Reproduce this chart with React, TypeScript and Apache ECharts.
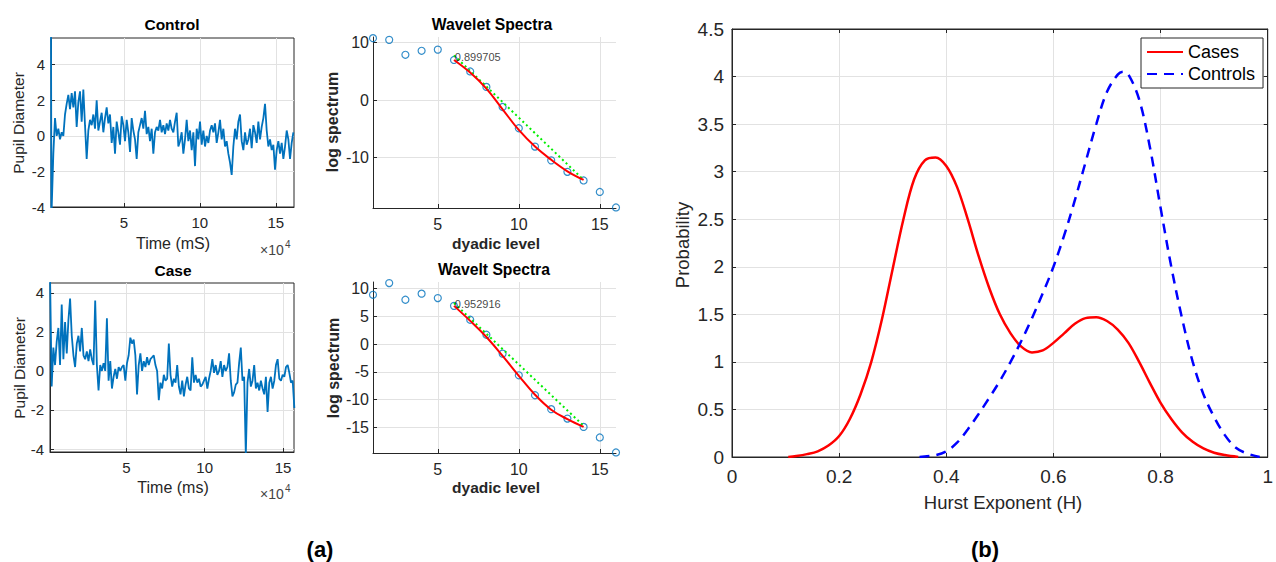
import React, { useEffect, useRef } from "react";
import * as echarts from "echarts";

const FONT = '"Liberation Sans", Arial, Helvetica, sans-serif';
const AX = "#262626";
const GRIDC = "#e2e2e2";
const MBLUE = "#0072BD";

// ---- (a) Control time series (x in units of 10^4 ms) ----
const controlLeadTimes = [0.2, 0.23];
const controlLeadValues = [6, -4.5];
const controlStart = 0.354;
const controlStep = 0.10975;
const controlValues = [
  -1.0, 1.0, 0.0, 0.4, -0.2, 0.2, 0.0, 1.2, 1.8, 2.3,
  1.5, 2.4, 1.6, 2.5, 0.5, 1.9, 2.5, 0.8, 2.6, 0.6,
  -1.3, 0.3, 0.9, 0.6, 1.2, 0.4, 2.0, 0.3, 0.8, 1.3,
  0.2, 1.0, 1.6, 0.7, 1.2, -0.4, 0.5, -1.0, 0.8, 0.2,
  -0.5, 1.1, 0.6, -0.3, 0.9, 0.2, -0.9, 1.0, 0.3, -0.2,
  -1.3, 0.2, 0.6, 1.0, 0.4, 1.4, 0.1, 0.5, -0.3, 0.4,
  -1.0, 0.2, 0.5, 0.3, 0.9, 0.2, 0.6, 0.1, 0.7, 0.3,
  0.9, 0.4, 0.2, 0.8, 1.3, -0.6, -0.3, 0.2, -1.0, -0.2,
  0.9, -0.3, 0.3, -0.8, 0.2, -1.7, 0.4, -0.2, 0.8, -0.5,
  0.3, -0.6, 0.0, -0.4, 0.3, 0.6, 0.2, 0.7, -0.4, 0.2,
  0.9, -0.2, 0.4, -0.6, -0.3, -1.0, -1.5, -2.2, -0.6, 0.4,
  -0.2, 0.8, 1.2, -0.3, -0.8, 0.2, -0.5, -0.2, 0.4, -0.7,
  0.6, 0.2, -0.4, 0.8, -0.2, 0.5, 1.0, 1.8, 0.3, -0.6,
  -0.2, -0.8, -0.5, -1.9, -0.8, -0.3, -1.0, -0.4, -1.3, -0.6,
  0.3, -0.2, -1.3, -0.4, 0.2,
];

// ---- (a) Case time series ----
const caseLeadTimes = [0.13];
const caseLeadValues = [5.0];
const caseStart = 0.237;
const caseStep = 0.1068;
const caseValues = [
  -0.8, 1.2, 0.3, 1.5, 2.2, 0.3, 3.4, 0.6, 2.5, 0.9,
  2.6, 3.7, 1.8, 0.8, 0.2, 1.4, 1.8, 1.0, 2.2, 0.8,
  0.6, 1.0, 0.5, 1.1, 0.6, 0.3, 3.6, 0.3, -1.0, 0.3,
  0.0, 0.4, 0.0, 2.7, -0.5, 0.5, -0.9, -0.3, 0.1, -0.4,
  0.2, 0.0, 0.2, 0.3, -0.5, 0.4, 0.8, 1.7, 1.4, 1.6,
  0.8, -1.2, 0.3, 0.9, 0.0, 0.5, 0.2, 0.7, 0.3, 0.6,
  0.7, 0.8, 0.3, 0.0, -1.5, -0.6, -0.9, -0.2, -0.5, -0.4,
  1.4, -0.2, -0.8, -0.4, -0.6, 0.3, -0.8, -1.2, -0.5, -1.3,
  -0.7, -0.3, -0.9, -1.0, 0.7, -0.6, -0.2, -0.6, -0.4, -0.8,
  -0.7, -0.5, -0.3, -0.9, -0.4, 0.0, 0.6, -0.1, 0.3, -0.2,
  0.0, 0.5, -0.3, 0.3, 0.0, 0.2, 0.9, -0.5, -1.3, -1.1,
  -0.7, -0.6, 0.4, 1.2, -0.5, -0.3, -4.3, -0.6, 0.1, -0.8,
  -0.5, 0.3, -0.9, -0.6, -1.0, -0.5, -0.9, -1.2, -0.3, -2.1,
  -0.6, -0.3, -0.9, -0.5, 0.3, 0.6, -0.4, -0.5, -0.2, -0.3,
  0.2, 0.3, -0.1, -0.6, -0.5, -1.9,
];

// ---- (a) Wavelet spectra ----
const dyadicLevels = [1, 2, 3, 4, 5, 6, 7, 8, 9, 10, 11, 12, 13, 14, 15, 16];
const spectraControl = [10.8, 10.5, 7.9, 8.6, 8.8, 7.0, 5.0, 2.3, -1.2, -4.9, -8.1, -10.5, -12.5, -14.0, -16.0, -18.7];
const spectraCase = [8.9, 11.0, 8.0, 9.1, 8.3, 6.9, 4.4, 1.7, -1.7, -5.6, -9.2, -11.7, -13.4, -14.9, -16.8, -19.5];
const fitLevels = [6, 7, 8, 9, 10, 11, 12, 13, 14];
const fitControl = [7.0, 4.8, 2.0, -1.6, -5.2, -8.1, -10.4, -12.4, -13.9];
const fitCase = [6.9, 4.2, 1.3, -2.1, -5.7, -9.1, -11.8, -13.5, -14.9];
const lineLevels = [6, 14];
const lineControl = [7.8, -13.9];
const lineCase = [7.4, -14.7];
const hurstLabelControl = "0.899705";
const hurstLabelCase = "0.952916";
const hurstLabelAtControl = [6.05, 7.5];
const hurstLabelAtCase = [6.05, 7.2];

// ---- (b) Probability densities of the Hurst exponent ----
const casesH = [0.105, 0.12, 0.14, 0.16, 0.18, 0.2, 0.22, 0.24, 0.26, 0.28, 0.3, 0.32, 0.34, 0.36, 0.38, 0.4, 0.42, 0.44, 0.46, 0.48, 0.5, 0.52, 0.54, 0.56, 0.58, 0.6, 0.62, 0.64, 0.66, 0.68, 0.7, 0.72, 0.74, 0.76, 0.78, 0.8, 0.82, 0.84, 0.86, 0.88, 0.9, 0.92, 0.945];
const casesP = [0, 0.01, 0.03, 0.06, 0.12, 0.22, 0.4, 0.66, 1.0, 1.45, 1.98, 2.5, 2.92, 3.12, 3.15, 3.06, 2.84, 2.5, 2.12, 1.78, 1.5, 1.3, 1.16, 1.1, 1.12, 1.2, 1.3, 1.4, 1.46, 1.47, 1.43, 1.34, 1.2, 1.0, 0.78, 0.57, 0.4, 0.26, 0.16, 0.09, 0.045, 0.02, 0];
const controlsH = [0.35, 0.38, 0.4, 0.42, 0.44, 0.46, 0.48, 0.5, 0.52, 0.54, 0.56, 0.58, 0.6, 0.62, 0.64, 0.66, 0.68, 0.7, 0.72, 0.73, 0.74, 0.76, 0.78, 0.8, 0.82, 0.84, 0.86, 0.88, 0.9, 0.92, 0.94, 0.96, 0.985];
const controlsP = [0, 0.02, 0.06, 0.15, 0.29, 0.45, 0.62, 0.8, 1.0, 1.22, 1.46, 1.72, 2.0, 2.33, 2.7, 3.1, 3.5, 3.84, 4.02, 4.05, 4.02, 3.76, 3.26, 2.62, 2.0, 1.46, 1.0, 0.66, 0.42, 0.23, 0.1, 0.04, 0];

const tsTicksX = [5, 10, 15];
const tsTicksY = [-4, -2, 0, 2, 4];
const dyadicTicks = [5, 10, 15];
const spectraTicksControl = [-10, 0, 10];
const spectraTicksCase = [-15, -10, -5, 0, 5, 10];

function zip(xs: number[], ys: number[]) {
  return xs.map((x, i) => [x, ys[i]]);
}

function axis(
  gridIndex: number,
  min: number,
  max: number,
  fontSize: number,
  margin: number,
  extra: any = {}
) {
  const ticks = extra.ticks;
  const tickObj: any = { show: true, inside: true, length: 4, lineStyle: { color: AX } };
  const labelObj: any = { color: AX, fontSize, fontFamily: FONT, margin };
  if (ticks) {
    tickObj.customValues = ticks;
    labelObj.customValues = ticks;
  }
  const a: any = {
    type: "value",
    gridIndex,
    min,
    max,
    axisLine: { show: true, onZero: false, lineStyle: { color: AX, width: 1 } },
    axisTick: tickObj,
    axisLabel: labelObj,
    splitLine: { show: true, lineStyle: { color: GRIDC, width: 1 } },
  };
  if (extra.interval) a.interval = extra.interval;
  if (extra.position) a.position = extra.position;
  if (extra.hidden) {
    a.axisLabel = { show: false };
    a.splitLine = { show: false };
  }
  return a;
}

function txt(x: number, y: number, text: string, fontSize: number, o: any = {}) {
  return {
    type: "text",
    x,
    y,
    rotation: o.rot || 0,
    silent: true,
    z: 10,
    style: {
      text,
      fontSize,
      fontFamily: FONT,
      fontWeight: o.bold ? "bold" : "normal",
      fill: o.color || "#000",
      align: o.align || "center",
      verticalAlign: "middle",
    },
  };
}

export default function App() {
  const ref = useRef<HTMLDivElement>(null);

  useEffect(() => {
    if (!ref.current) return;
    const chart = echarts.init(ref.current, undefined, { renderer: "svg" });

    const controlData = [
      ...zip(controlLeadTimes, controlLeadValues),
      ...controlValues.map((v, i) => [controlStart + i * controlStep, v]),
    ];
    const caseData = [
      ...zip(caseLeadTimes, caseLeadValues),
      ...caseValues.map((v, i) => [caseStart + i * caseStep, v]),
    ];

    const scatterStyle = {
      color: "rgba(0,0,0,0)",
      borderColor: MBLUE,
      borderWidth: 1.2,
    };

    const option: any = {
      animation: false,
      backgroundColor: "#ffffff",
      textStyle: { fontFamily: FONT },
      grid: [
        { left: 51, top: 38, width: 243, height: 169, show: true, borderColor: AX, borderWidth: 1 },
        { left: 50, top: 283, width: 244, height: 169, show: true, borderColor: AX, borderWidth: 1 },
        { left: 373, top: 37, width: 243, height: 171 },
        { left: 373, top: 282, width: 243, height: 171 },
        { left: 732, top: 29, width: 543, height: 428, show: true, borderColor: AX, borderWidth: 1 },
      ],
      xAxis: [
        axis(0, 0.2, 16.2, 15, 8, { ticks: tsTicksX }),
        axis(1, 0.13, 15.7, 15, 8, { ticks: tsTicksX }),
        axis(2, 1, 16, 16, 8, { ticks: dyadicTicks }),
        axis(3, 1, 16, 16, 8, { ticks: dyadicTicks }),
        axis(4, 0, 1, 19, 10, { interval: 0.2 }),
        axis(4, 0, 1, 19, 10, { interval: 0.2, position: "top", hidden: true }),
      ],
      yAxis: [
        axis(0, -4, 5.5, 15, 6, { ticks: tsTicksY }),
        axis(1, -4.15, 4.5, 15, 6, { ticks: tsTicksY }),
        axis(2, -18.8, 11, 16, 4, { ticks: spectraTicksControl }),
        axis(3, -19.6, 11.2, 16, 4, { ticks: spectraTicksCase }),
        axis(4, 0, 4.5, 19, 8, { interval: 0.5 }),
        axis(4, 0, 4.5, 19, 8, { interval: 0.5, position: "right", hidden: true }),
      ],
      legend: {
        data: ["Cases", "Controls"],
        orient: "vertical",
        left: 1141,
        top: 38,
        padding: [5, 8, 5, 5],
        itemGap: 4,
        itemWidth: 36,
        itemHeight: 14,
        backgroundColor: "#ffffff",
        borderColor: AX,
        borderWidth: 1,
        borderRadius: 0,
        itemStyle: { opacity: 0, borderWidth: 0 },
        textStyle: { fontSize: 18, color: "#000", fontFamily: FONT },
        z: 20,
      },
      series: [
        {
          name: "control-ts",
          type: "line",
          xAxisIndex: 0,
          yAxisIndex: 0,
          symbol: "none",
          data: controlData,
          lineStyle: { color: MBLUE, width: 1.8 },
        },
        {
          name: "case-ts",
          type: "line",
          xAxisIndex: 1,
          yAxisIndex: 1,
          symbol: "none",
          data: caseData,
          lineStyle: { color: MBLUE, width: 1.8 },
        },
        {
          type: "scatter",
          xAxisIndex: 2,
          yAxisIndex: 2,
          symbol: "circle",
          symbolSize: 7,
          clip: false,
          data: zip(dyadicLevels, spectraControl),
          itemStyle: scatterStyle,
          z: 2,
        },
        {
          type: "line",
          xAxisIndex: 2,
          yAxisIndex: 2,
          symbol: "none",
          smooth: 0.4,
          data: zip(fitLevels, fitControl),
          lineStyle: { color: "#ff0000", width: 2 },
          z: 4,
        },
        {
          type: "line",
          xAxisIndex: 2,
          yAxisIndex: 2,
          symbol: "none",
          data: zip(lineLevels, lineControl),
          lineStyle: { color: "#00ee00", width: 2, type: [2, 3] },
          z: 3,
        },
        {
          type: "scatter",
          xAxisIndex: 2,
          yAxisIndex: 2,
          symbolSize: 0,
          data: [hurstLabelAtControl],
          label: {
            show: true,
            formatter: hurstLabelControl,
            position: "right",
            distance: 0,
            fontSize: 11,
            color: "#111",
            fontFamily: FONT,
          },
          z: 5,
        },
        {
          type: "scatter",
          xAxisIndex: 3,
          yAxisIndex: 3,
          symbol: "circle",
          symbolSize: 7,
          clip: false,
          data: zip(dyadicLevels, spectraCase),
          itemStyle: scatterStyle,
          z: 2,
        },
        {
          type: "line",
          xAxisIndex: 3,
          yAxisIndex: 3,
          symbol: "none",
          smooth: 0.4,
          data: zip(fitLevels, fitCase),
          lineStyle: { color: "#ff0000", width: 2 },
          z: 4,
        },
        {
          type: "line",
          xAxisIndex: 3,
          yAxisIndex: 3,
          symbol: "none",
          data: zip(lineLevels, lineCase),
          lineStyle: { color: "#00ee00", width: 2, type: [2, 3] },
          z: 3,
        },
        {
          type: "scatter",
          xAxisIndex: 3,
          yAxisIndex: 3,
          symbolSize: 0,
          data: [hurstLabelAtCase],
          label: {
            show: true,
            formatter: hurstLabelCase,
            position: "right",
            distance: 0,
            fontSize: 11,
            color: "#111",
            fontFamily: FONT,
          },
          z: 5,
        },
        {
          name: "Cases",
          type: "line",
          xAxisIndex: 4,
          yAxisIndex: 4,
          symbol: "none",
          smooth: 0.35,
          data: zip(casesH, casesP),
          itemStyle: { color: "#ff0000" },
          lineStyle: { color: "#ff0000", width: 2.5 },
        },
        {
          name: "Controls",
          type: "line",
          xAxisIndex: 4,
          yAxisIndex: 4,
          symbol: "none",
          smooth: 0.35,
          data: zip(controlsH, controlsP),
          itemStyle: { color: "#0000ff" },
          lineStyle: { color: "#0000ff", width: 2.5, type: [10, 7] },
        },
      ],
      graphic: [
        txt(172, 24, "Control", 15.5, { bold: true }),
        txt(173, 270, "Case", 15.5, { bold: true }),
        txt(18, 123, "Pupil Diameter", 15.5, { rot: Math.PI / 2, color: AX }),
        txt(19, 368, "Pupil Diameter", 15.5, { rot: Math.PI / 2, color: AX }),
        txt(173, 243, "Time (mS)", 16, { color: AX }),
        txt(173, 487, "Time (ms)", 16, { color: AX }),
        txt(260, 250, "×10", 14, { align: "left", color: "#444" }),
        txt(285, 244, "4", 10, { align: "left", color: "#444" }),
        txt(260, 494, "×10", 14, { align: "left", color: "#444" }),
        txt(285, 488, "4", 10, { align: "left", color: "#444" }),
        txt(492, 24, "Wavelet Spectra", 15.7, { bold: true }),
        txt(494, 269, "Wavelt Spectra", 15.7, { bold: true }),
        txt(332, 122, "log spectrum", 16, { bold: true, rot: Math.PI / 2, color: AX }),
        txt(333, 368, "log spectrum", 16, { bold: true, rot: Math.PI / 2, color: AX }),
        txt(496, 243, "dyadic level", 15.5, { bold: true, color: AX }),
        txt(496, 487, "dyadic level", 15.5, { bold: true, color: AX }),
        txt(682, 245, "Probability", 18.5, { rot: Math.PI / 2, color: AX }),
        txt(1003, 502, "Hurst Exponent (H)", 18.5, { color: AX }),
        txt(320, 549, "(a)", 22, { bold: true }),
        txt(985, 549, "(b)", 22, { bold: true }),
      ],
    };

    chart.setOption(option);
    return () => {
      chart.dispose();
    };
  }, []);

  return (
    <div
      ref={ref}
      style={{ position: "absolute", left: 0, top: 0, width: 1276, height: 562 }}
    />
  );
}
